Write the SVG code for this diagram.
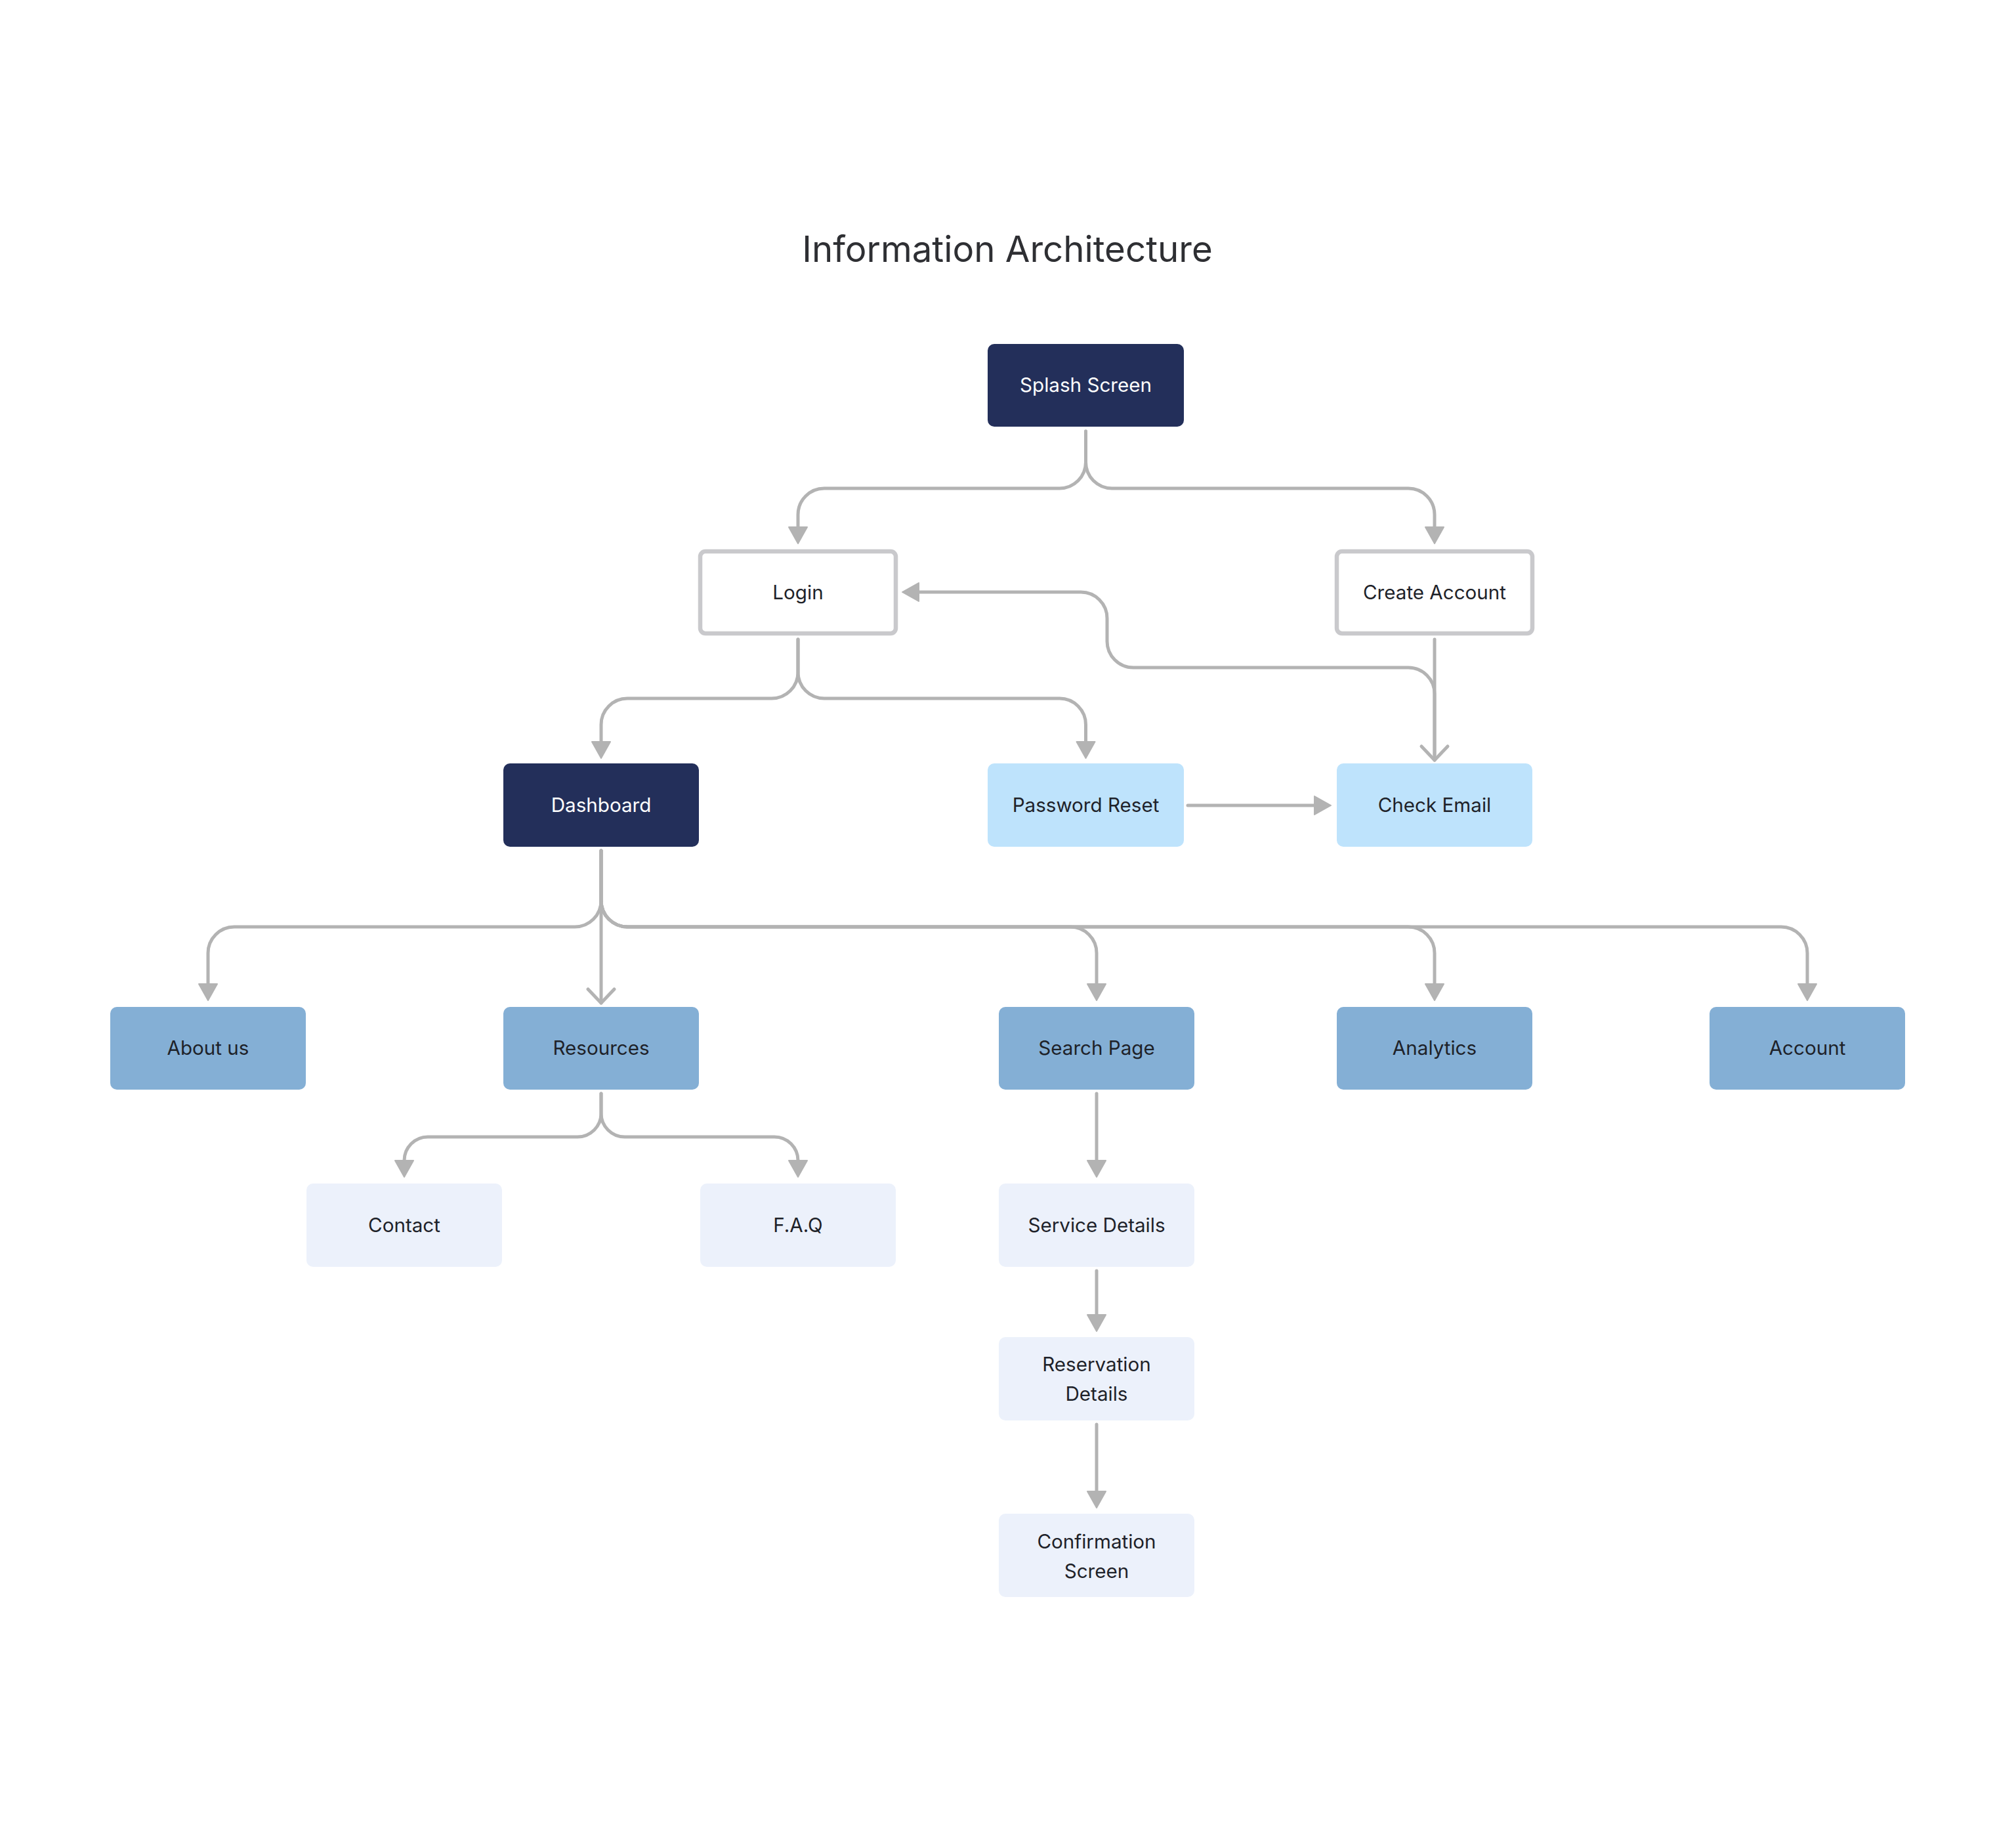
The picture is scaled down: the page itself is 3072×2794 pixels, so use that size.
<svg xmlns="http://www.w3.org/2000/svg" width="3072" height="2794" viewBox="0 0 3072 2794">
<style>
.lbl{font-family:Inter,"Noto Sans","Liberation Sans",sans-serif;font-size:29.6px;text-anchor:middle;fill:#1E2229}
.wt{fill:#FFFFFF}
.title{font-family:Inter,"Noto Sans","Liberation Sans",sans-serif;font-size:54.6px;text-anchor:middle;fill:#2E2F33}
.navy{fill:#232F5A}
.sky{fill:#BEE3FC}
.mid{fill:#84AFD5}
.pale{fill:#ECF1FB}
.outl{fill:#FFFFFF;stroke:#C9C9CC;stroke-width:6.5}
.conn path{fill:none;stroke:#B3B3B3;stroke-width:5;stroke-linecap:round;stroke-linejoin:round}
.fa{marker-end:url(#arrowFilled)}
.oa{marker-end:url(#arrowOpen)}
</style>
<defs>
<marker id="arrowFilled" markerUnits="userSpaceOnUse" viewBox="-2 -16 30 32" refX="0" refY="0" markerWidth="30" markerHeight="32" orient="auto" overflow="visible">
<path d="M0,-14 L25,0 L0,14 Z" fill="#B3B3B3" stroke="#B3B3B3" stroke-width="2" stroke-linejoin="round"/>
</marker>
<marker id="arrowOpen" markerUnits="userSpaceOnUse" viewBox="-26 -24 30 48" refX="0" refY="0" markerWidth="30" markerHeight="48" orient="auto" overflow="visible">
<path d="M-21,-20 L0,0 L-21,20" fill="none" stroke="#B3B3B3" stroke-width="5" stroke-linecap="round" stroke-linejoin="round"/>
</marker>
</defs>
<rect width="3072" height="2794" fill="#FFFFFF"/>
<text class="title" x="1535" y="399">Information Architecture</text>

<g id="connectors" class="conn">
<path id="c-splash-login" class="fa" d="M1654.5 657 V704 A40 40 0 0 1 1614.5 744 H1256 A40 40 0 0 0 1216 784 V803"/>
<path id="c-splash-create" class="fa" d="M1654.5 657 V704 A40 40 0 0 0 1694.5 744 H2146 A40 40 0 0 1 2186 784 V803"/>
<path id="c-login-dashboard" class="fa" d="M1216 974 V1024 A40 40 0 0 1 1176 1064 H956 A40 40 0 0 0 916 1104 V1130"/>
<path id="c-login-reset" class="fa" d="M1216 974 V1024 A40 40 0 0 0 1256 1064 H1614.5 A40 40 0 0 1 1654.5 1104 V1130"/>
<path id="c-create-check" class="oa" d="M2186 974 V1158"/>
<path id="c-check-login" class="fa" d="M2186 1150 V1057 A40 40 0 0 0 2146 1017 H1727 A40 40 0 0 1 1687 977 V942 A40 40 0 0 0 1647 902 H1400"/>
<path id="c-reset-check" class="fa" d="M1810 1227 H2003"/>
<path id="c-dash-about" class="fa" d="M916 1296 V1372 A40 40 0 0 1 876 1412 H357 A40 40 0 0 0 317 1452 V1499"/>
<path id="c-dash-resources" class="oa" d="M916 1296 V1528"/>
<path id="c-dash-search" class="fa" d="M916 1296 V1372 A40 40 0 0 0 956 1412 H1631 A40 40 0 0 1 1671 1452 V1499"/>
<path id="c-dash-analytics" class="fa" d="M916 1296 V1372 A40 40 0 0 0 956 1412 H2146 A40 40 0 0 1 2186 1452 V1499"/>
<path id="c-dash-account" class="fa" d="M916 1296 V1372 A40 40 0 0 0 956 1412 H2714 A40 40 0 0 1 2754 1452 V1499"/>
<path id="c-res-contact" class="fa" d="M916 1666 V1696 A36 36 0 0 1 880 1732 H652 A36 36 0 0 0 616 1768"/>
<path id="c-res-faq" class="fa" d="M916 1666 V1696 A36 36 0 0 0 952 1732 H1180 A36 36 0 0 1 1216 1768"/>
<path id="c-search-service" class="fa" d="M1671 1666 V1768"/>
<path id="c-service-reservation" class="fa" d="M1671 1936 V2003"/>
<path id="c-reservation-confirm" class="fa" d="M1671 2170 V2272"/>
</g>

<g id="splash"><rect class="navy" x="1505" y="524" width="299" height="126" rx="10"/><text class="lbl wt" x="1654.5" y="597">Splash Screen</text></g>
<g id="login"><rect class="outl" x="1067" y="840" width="298" height="125" rx="8"/><text class="lbl" x="1216" y="913">Login</text></g>
<g id="create-account"><rect class="outl" x="2037" y="840" width="298" height="125" rx="8"/><text class="lbl" x="2186" y="913">Create Account</text></g>
<g id="dashboard"><rect class="navy" x="767" y="1163" width="298" height="127" rx="10"/><text class="lbl wt" x="916" y="1237">Dashboard</text></g>
<g id="password-reset"><rect class="sky" x="1505" y="1163" width="299" height="127" rx="10"/><text class="lbl" x="1654.5" y="1237">Password Reset</text></g>
<g id="check-email"><rect class="sky" x="2037" y="1163" width="298" height="127" rx="10"/><text class="lbl" x="2186" y="1237">Check Email</text></g>
<g id="about-us"><rect class="mid" x="168" y="1534" width="298" height="126" rx="10"/><text class="lbl" x="317" y="1607">About us</text></g>
<g id="resources"><rect class="mid" x="767" y="1534" width="298" height="126" rx="10"/><text class="lbl" x="916" y="1607">Resources</text></g>
<g id="search-page"><rect class="mid" x="1522" y="1534" width="298" height="126" rx="10"/><text class="lbl" x="1671" y="1607">Search Page</text></g>
<g id="analytics"><rect class="mid" x="2037" y="1534" width="298" height="126" rx="10"/><text class="lbl" x="2186" y="1607">Analytics</text></g>
<g id="account"><rect class="mid" x="2605" y="1534" width="298" height="126" rx="10"/><text class="lbl" x="2754" y="1607">Account</text></g>
<g id="contact"><rect class="pale" x="467" y="1803" width="298" height="127" rx="10"/><text class="lbl" x="616" y="1877">Contact</text></g>
<g id="faq"><rect class="pale" x="1067" y="1803" width="298" height="127" rx="10"/><text class="lbl" x="1216" y="1877">F.A.Q</text></g>
<g id="service-details"><rect class="pale" x="1522" y="1803" width="298" height="127" rx="10"/><text class="lbl" x="1671" y="1877">Service Details</text></g>
<g id="reservation-details"><rect class="pale" x="1522" y="2037" width="298" height="127" rx="10"/><text class="lbl" x="1671" y="2089">Reservation</text><text class="lbl" x="1671" y="2134">Details</text></g>
<g id="confirmation-screen"><rect class="pale" x="1522" y="2306" width="298" height="127" rx="10"/><text class="lbl" x="1671" y="2359">Confirmation</text><text class="lbl" x="1671" y="2404">Screen</text></g>
</svg>
